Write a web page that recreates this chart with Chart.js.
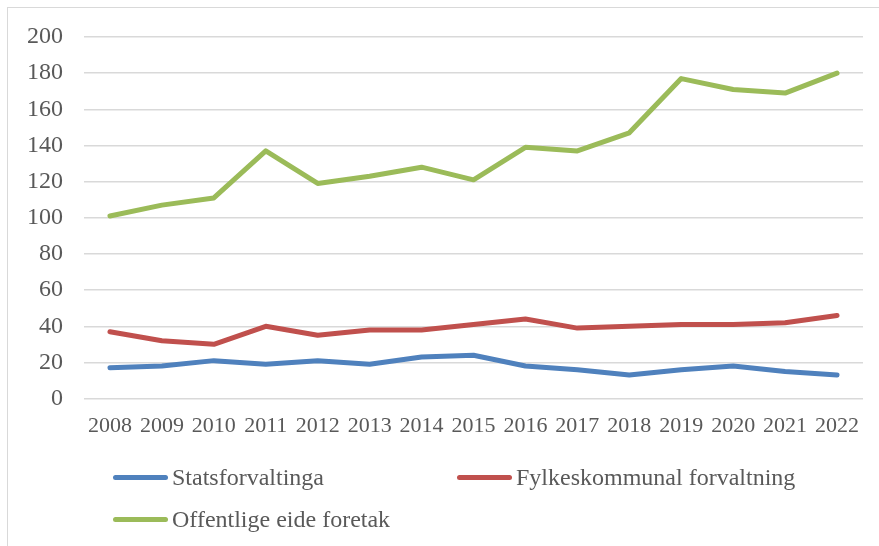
<!DOCTYPE html>
<html>
<head>
<meta charset="utf-8">
<script src="https://cdn.jsdelivr.net/npm/chart.js@4.4.1/dist/chart.umd.min.js"></script>
<style>
    html, body { margin: 0; padding: 0; background: #fff; }
    body { width: 879px; height: 546px; position: relative; overflow: hidden; font-family: "Liberation Serif", "DejaVu Serif", serif; }
    .frame { position: absolute; left: 7px; top: 7px; width: 900px; height: 600px; border: 1.5px solid #d9d9d9; box-sizing: border-box; }
    .plot { position: absolute; left: 0; top: 0; width: 879px; height: 451px; }
    .legend { position: absolute; left: 0; top: 0; width: 879px; height: 546px; }
    .legend-item { position: absolute; display: flex; align-items: center; font-size: 24px; color: #595959; white-space: nowrap; }
    .legend-item .swatch { width: 55px; height: 5px; border-radius: 3px; margin-right: 4px; }
</style>
</head>
<body>
<div class="frame"></div>
<div class="plot"><canvas id="chart"></canvas></div>
<div class="legend" id="legend"></div>
<script>
    var years = ["2008", "2009", "2010", "2011", "2012", "2013", "2014", "2015",
                 "2016", "2017", "2018", "2019", "2020", "2021", "2022"];

    var statsforvaltinga = [17, 18, 21, 19, 21, 19, 23, 24, 18, 16, 13, 16, 18, 15, 13];
    var fylkeskommunal = [37, 32, 30, 40, 35, 38, 38, 41, 44, 39, 40, 41, 41, 42, 46];
    var offentligeForetak = [101, 107, 111, 137, 119, 123, 128, 121, 139, 137, 147, 177, 171, 169, 180];

    var seriesNames = ["Statsforvaltinga", "Fylkeskommunal forvaltning", "Offentlige eide foretak"];
    var seriesColors = ["#4f81bd", "#c0504d", "#9bbb59"];

    var textColor = "#595959";
    var gridColor = "#d9d9d9";

    function makeDataset(i, values) {
        return {
            label: seriesNames[i],
            data: values,
            borderColor: seriesColors[i],
            backgroundColor: seriesColors[i],
            borderWidth: 5,
            pointRadius: 0,
            tension: 0,
            borderCapStyle: "round",
            borderJoinStyle: "round"
        };
    }

    new Chart(document.getElementById("chart"), {
        type: "line",
        data: {
            labels: years,
            datasets: [
                makeDataset(0, statsforvaltinga),
                makeDataset(1, fylkeskommunal),
                makeDataset(2, offentligeForetak)
            ]
        },
        options: {
            responsive: true,
            maintainAspectRatio: false,
            animation: false,
            layout: { padding: { left: 6, right: 16, top: 37, bottom: 6 } },
            plugins: {
                legend: { display: false },
                tooltip: { enabled: false }
            },
            scales: {
                x: {
                    offset: true,
                    grid: { display: false },
                    border: { display: false },
                    ticks: {
                        color: textColor,
                        font: { family: "Liberation Serif", size: 22 },
                        maxRotation: 0,
                        autoSkip: false,
                        padding: 6
                    }
                },
                y: {
                    min: 0,
                    max: 200,
                    grid: { color: gridColor, lineWidth: 1.5, drawTicks: false },
                    border: { display: false },
                    ticks: {
                        stepSize: 20,
                        color: textColor,
                        font: { family: "Liberation Serif", size: 24 },
                        padding: 21
                    }
                }
            }
        }
    });

    // legend laid out like the original: two columns, wrapping
    var legendSpots = [
        { left: 113, top: 477 },
        { left: 457, top: 477 },
        { left: 113, top: 519 }
    ];
    var legendEl = document.getElementById("legend");
    seriesNames.forEach(function (name, i) {
        var item = document.createElement("div");
        item.className = "legend-item";
        item.style.left = legendSpots[i].left + "px";
        item.style.top = (legendSpots[i].top - 14) + "px";
        item.style.height = "28px";
        item.innerHTML = '<span class="swatch" style="background:' + seriesColors[i] + '"></span>' + name;
        legendEl.appendChild(item);
    });
</script>
</body>
</html>
